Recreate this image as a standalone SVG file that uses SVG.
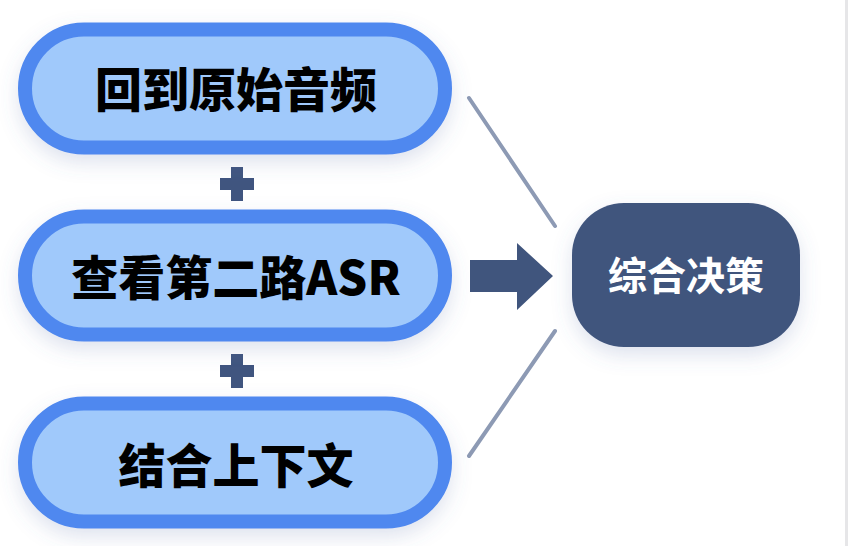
<svg xmlns="http://www.w3.org/2000/svg" width="848" height="546" viewBox="0 0 848 546">
  <defs>
    <filter id="sh" x="-20%" y="-30%" width="140%" height="170%">
      <feDropShadow dx="0" dy="8" stdDeviation="10" flood-color="#5a6fa8" flood-opacity="0.2"/>
    </filter>
    <style>
      .pill { fill: #a0c9fb; stroke: #4f88ef; stroke-width: 14; filter: url(#sh); }
      .pt { font-family: "Noto Sans CJK SC", "Noto Sans", sans-serif; font-weight: 900; font-size: 47px; fill: #000; text-anchor: middle; }
      .plus { fill: #40557f; }
      .line { stroke: #8d9ab4; stroke-width: 4; stroke-linecap: round; fill: none; }
      .dec { fill: #40557d; filter: url(#sh); }
      .dt { font-family: "Noto Sans CJK SC", "Noto Sans", sans-serif; font-weight: 700; font-size: 39px; fill: #fff; text-anchor: middle; }
    </style>
  </defs>
  <rect width="848" height="546" fill="#ffffff"/>
  <rect x="845" y="0" width="3" height="546" fill="#e6e6e8"/>

  <g id="connectors">
    <line class="line" x1="469" y1="98" x2="555" y2="226"/>
    <line class="line" x1="555" y1="331" x2="469" y2="456"/>
    <path d="M470 260 H517 V243 L553 276 L517 310 V292 H470 Z" fill="#40557d"/>
    <path class="plus" d="M231 167 h12 v11 h11 v12 h-11 v11 h-12 v-11 h-11 v-12 h11 z"/>
    <path class="plus" d="M231 354 h12 v11 h11 v12 h-11 v11 h-12 v-11 h-11 v-12 h11 z"/>
  </g>

  <g id="node-audio">
    <rect class="pill" x="25" y="29.5" width="420" height="118" rx="59"/>
    <text class="pt" x="236" y="107">回到原始音频</text>
  </g>
  <g id="node-asr">
    <rect class="pill" x="25" y="216.5" width="420" height="118" rx="59"/>
    <text class="pt" x="236" y="294.5">查看第二路ASR</text>
  </g>
  <g id="node-context">
    <rect class="pill" x="25" y="403.5" width="420" height="118" rx="59"/>
    <text class="pt" x="236" y="482.5">结合上下文</text>
  </g>
  <g id="node-decision">
    <rect class="dec" x="572" y="203" width="228" height="144" rx="52"/>
    <text class="dt" x="686" y="290">综合决策</text>
  </g>
</svg>
